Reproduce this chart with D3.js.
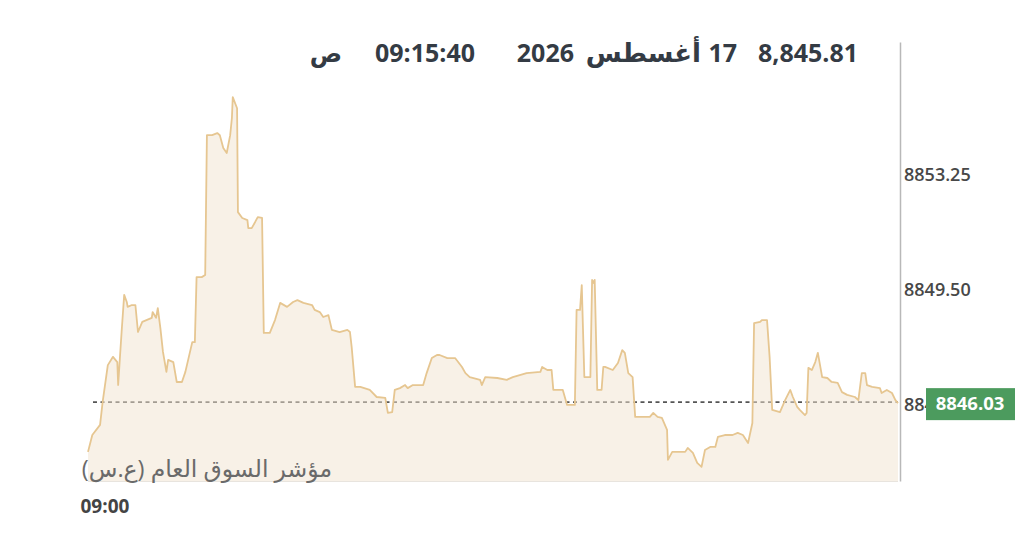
<!DOCTYPE html>
<html>
<head>
<meta charset="utf-8">
<script src="https://cdn.jsdelivr.net/npm/d3@7"></script>
<style>
  html, body { margin: 0; padding: 0; background: #fff; }
  svg { display: block; font-family: "Open Sans", "DejaVu Sans", sans-serif; }
</style>
</head>
<body>
<svg id="chart" width="1024" height="543"></svg>
<script>
// ---- data (seconds after 09:00:00, index value) ----
const seconds = [0,5,14,17,23,29,34,35,37,39,42,45,46,51,55,58,63,74,75,79,81,84,87,91,93,99,103,109,113,121,124,126,132,136,138,144,150,153,157,161,165,167,168,173,174,179,185,186,190,194,197,202,204,211,217,223,231,238,243,250,260,263,269,273,279,283,292,301,304,306,310,316,327,335,345,348,353,356,362,368,371,377,389,393,399,405,408,417,426,434,438,443,455,457,461,475,486,493,509,525,527,533,538,540,551,556,565,567,571,573,576,583,585,587,588,591,596,598,600,609,615,620,623,627,632,635,652,656,661,666,672,673,678,693,696,702,707,712,716,722,728,731,739,748,754,760,766,771,773,780,782,788,791,794,803,809,815,818,823,826,832,834,836,840,844,847,852,858,863,870,875,881,890,894,898,902,904,910,919,921,927,933,937,940];
const values = [8844.22,8844.77,8845.10,8845.85,8847.05,8847.32,8847.15,8846.40,8847.28,8848.13,8849.34,8849.11,8848.95,8849.01,8849.01,8848.13,8848.46,8848.59,8848.78,8848.59,8848.91,8848.26,8847.48,8846.83,8847.22,8847.15,8846.50,8846.50,8846.83,8847.80,8847.80,8849.92,8849.92,8849.99,8854.55,8854.55,8854.62,8854.55,8854.13,8853.97,8854.55,8855.11,8855.79,8855.43,8852.04,8851.85,8851.78,8851.52,8851.52,8851.72,8851.88,8851.85,8848.10,8848.10,8848.52,8849.08,8848.95,8849.11,8849.17,8849.08,8849.01,8848.85,8848.78,8848.62,8848.68,8848.20,8848.13,8848.20,8848.13,8847.64,8846.34,8846.34,8846.24,8846.01,8845.98,8845.49,8845.52,8846.24,8846.30,8846.40,8846.30,8846.40,8846.40,8846.79,8847.28,8847.38,8847.38,8847.28,8847.28,8846.99,8846.79,8846.66,8846.57,8846.40,8846.66,8846.63,8846.57,8846.66,8846.79,8846.83,8846.99,8846.89,8846.89,8846.24,8846.24,8845.75,8845.75,8848.85,8848.85,8849.66,8846.66,8846.66,8849.83,8849.73,8849.83,8846.24,8846.24,8846.99,8846.99,8846.89,8847.12,8847.54,8847.45,8846.79,8846.66,8845.36,8845.36,8845.49,8845.36,8845.33,8844.94,8843.96,8844.22,8844.22,8844.35,8844.19,8843.86,8843.73,8844.28,8844.38,8844.38,8844.71,8844.77,8844.77,8844.84,8844.77,8844.51,8845.16,8848.42,8848.46,8848.52,8848.52,8847.32,8845.59,8845.52,8845.91,8846.24,8846.01,8845.69,8845.59,8845.42,8845.49,8846.96,8846.89,8847.15,8847.45,8846.66,8846.63,8846.50,8846.47,8846.17,8846.08,8846.01,8845.91,8846.79,8846.79,8846.40,8846.34,8846.30,8846.14,8846.24,8846.14,8845.91,8845.81];

const yTickValues = [8845.75, 8849.50, 8853.25];
const xTickLabels = ["09:00"];
const hoverValue = 8845.81;
const hoverTime = "09:15:40";
const hoverDateParts = ["17", "أغسطس", "2026"];
const hoverAmPm = "ص";
const latestValue = "8846.03";
const indexName = "مؤشر السوق العام (ع.س)";

// ---- build ----
const startDate = new Date(2026, 7, 17, 9, 0, 0);
const data = seconds.map((s, i) => ({ t: new Date(startDate.getTime() + s * 1000), v: values[i] }));
const endDate = new Date(startDate.getTime() + 940 * 1000);

const svg = d3.select("#chart");
const plot = { left: 88, right: 898, top: 42, bottom: 481 };

const x = d3.scaleTime().domain([startDate, endDate]).range([plot.left, plot.right]);
const y = d3.scaleLinear().domain([8843.27, 8857.59]).range([plot.bottom, plot.top]);

// hover crosshair (dotted) drawn under the translucent fill
svg.append("line")
  .attr("x1", plot.left + 5).attr("x2", plot.right)
  .attr("y1", y(hoverValue) - 1).attr("y2", y(hoverValue) - 1)
  .attr("stroke", "#555").attr("stroke-width", 1.6)
  .attr("stroke-dasharray", "4,3.5");

const area = d3.area().x(d => x(d.t)).y0(plot.bottom).y1(d => y(d.v));
svg.append("path").datum(data)
  .attr("d", area)
  .attr("fill", "#f2e4d0").attr("fill-opacity", 0.5);

svg.append("line")
  .attr("x1", plot.left).attr("x2", plot.right)
  .attr("y1", plot.bottom + 0.5).attr("y2", plot.bottom + 0.5)
  .attr("stroke", "#e8e4de").attr("stroke-width", 1);

const line = d3.line().x(d => x(d.t)).y(d => y(d.v));
svg.append("path").datum(data)
  .attr("d", line)
  .attr("fill", "none")
  .attr("stroke", "#e6c691").attr("stroke-width", 1.8)
  .attr("stroke-linejoin", "round");

// right y axis
const yAxis = d3.axisRight(y).tickValues(yTickValues).tickFormat(d3.format(".2f"))
  .tickSize(0).tickSizeOuter(0).tickPadding(4);
const yg = svg.append("g").attr("transform", `translate(900,0)`).call(yAxis);
yg.select(".domain").attr("stroke", "#b8b8b8").attr("stroke-width", 1.5);
yg.selectAll("text").attr("fill", "#484848").attr("font-size", 18).attr("font-weight", 600)
  .attr("font-family", "'Open Sans', sans-serif");

// bottom x axis
const xAxis = d3.axisBottom(x).tickValues([startDate]).tickFormat((d, i) => xTickLabels[i])
  .tickSize(0).tickSizeOuter(0);
const xg = svg.append("g").attr("transform", `translate(0,${plot.bottom + 15})`).call(xAxis);
xg.select(".domain").remove();
xg.selectAll("text").attr("text-anchor", "start").attr("dx", -8)
  .attr("fill", "#444").attr("font-size", 19).attr("font-weight", 700)
  .attr("font-family", "'Open Sans', sans-serif");

// index name
svg.append("text")
  .attr("x", 332).attr("y", 477)
  .attr("direction", "rtl").attr("text-anchor", "start")
  .attr("fill", "#6a6a6a").attr("font-size", 23.5)
  .text(indexName);

// header
const hdr = svg.append("g").attr("fill", "#343b44").attr("font-weight", 700);
hdr.append("text").attr("x", 858).attr("y", 62).attr("font-size", 25).attr("text-anchor", "end").text(d3.format(",.2f")(hoverValue));
hdr.append("text").attr("x", 737).attr("y", 62).attr("font-size", 25).attr("text-anchor", "end").text(hoverDateParts[0]);
hdr.append("text").attr("x", 701).attr("y", 62).attr("font-size", 26).attr("text-anchor", "end").text(hoverDateParts[1]);
hdr.append("text").attr("x", 574).attr("y", 62).attr("font-size", 25).attr("text-anchor", "end").text(hoverDateParts[2]);
hdr.append("text").attr("x", 475).attr("y", 62).attr("font-size", 25).attr("text-anchor", "end").text(hoverTime);
hdr.append("text").attr("x", 342).attr("y", 62).attr("font-size", 24).attr("text-anchor", "end").text(hoverAmPm);

// latest value badge
const by = y(hoverValue);
svg.append("rect").attr("x", 926).attr("y", by - 15).attr("width", 89).attr("height", 32)
  .attr("fill", "#4c9b5e");
svg.append("text").attr("x", 970).attr("y", by + 7).attr("text-anchor", "middle")
  .attr("fill", "#fff").attr("font-size", 18.5).attr("font-weight", 700)
  .attr("font-family", "'Open Sans', sans-serif")
  .text(latestValue);
</script>
</body>
</html>
